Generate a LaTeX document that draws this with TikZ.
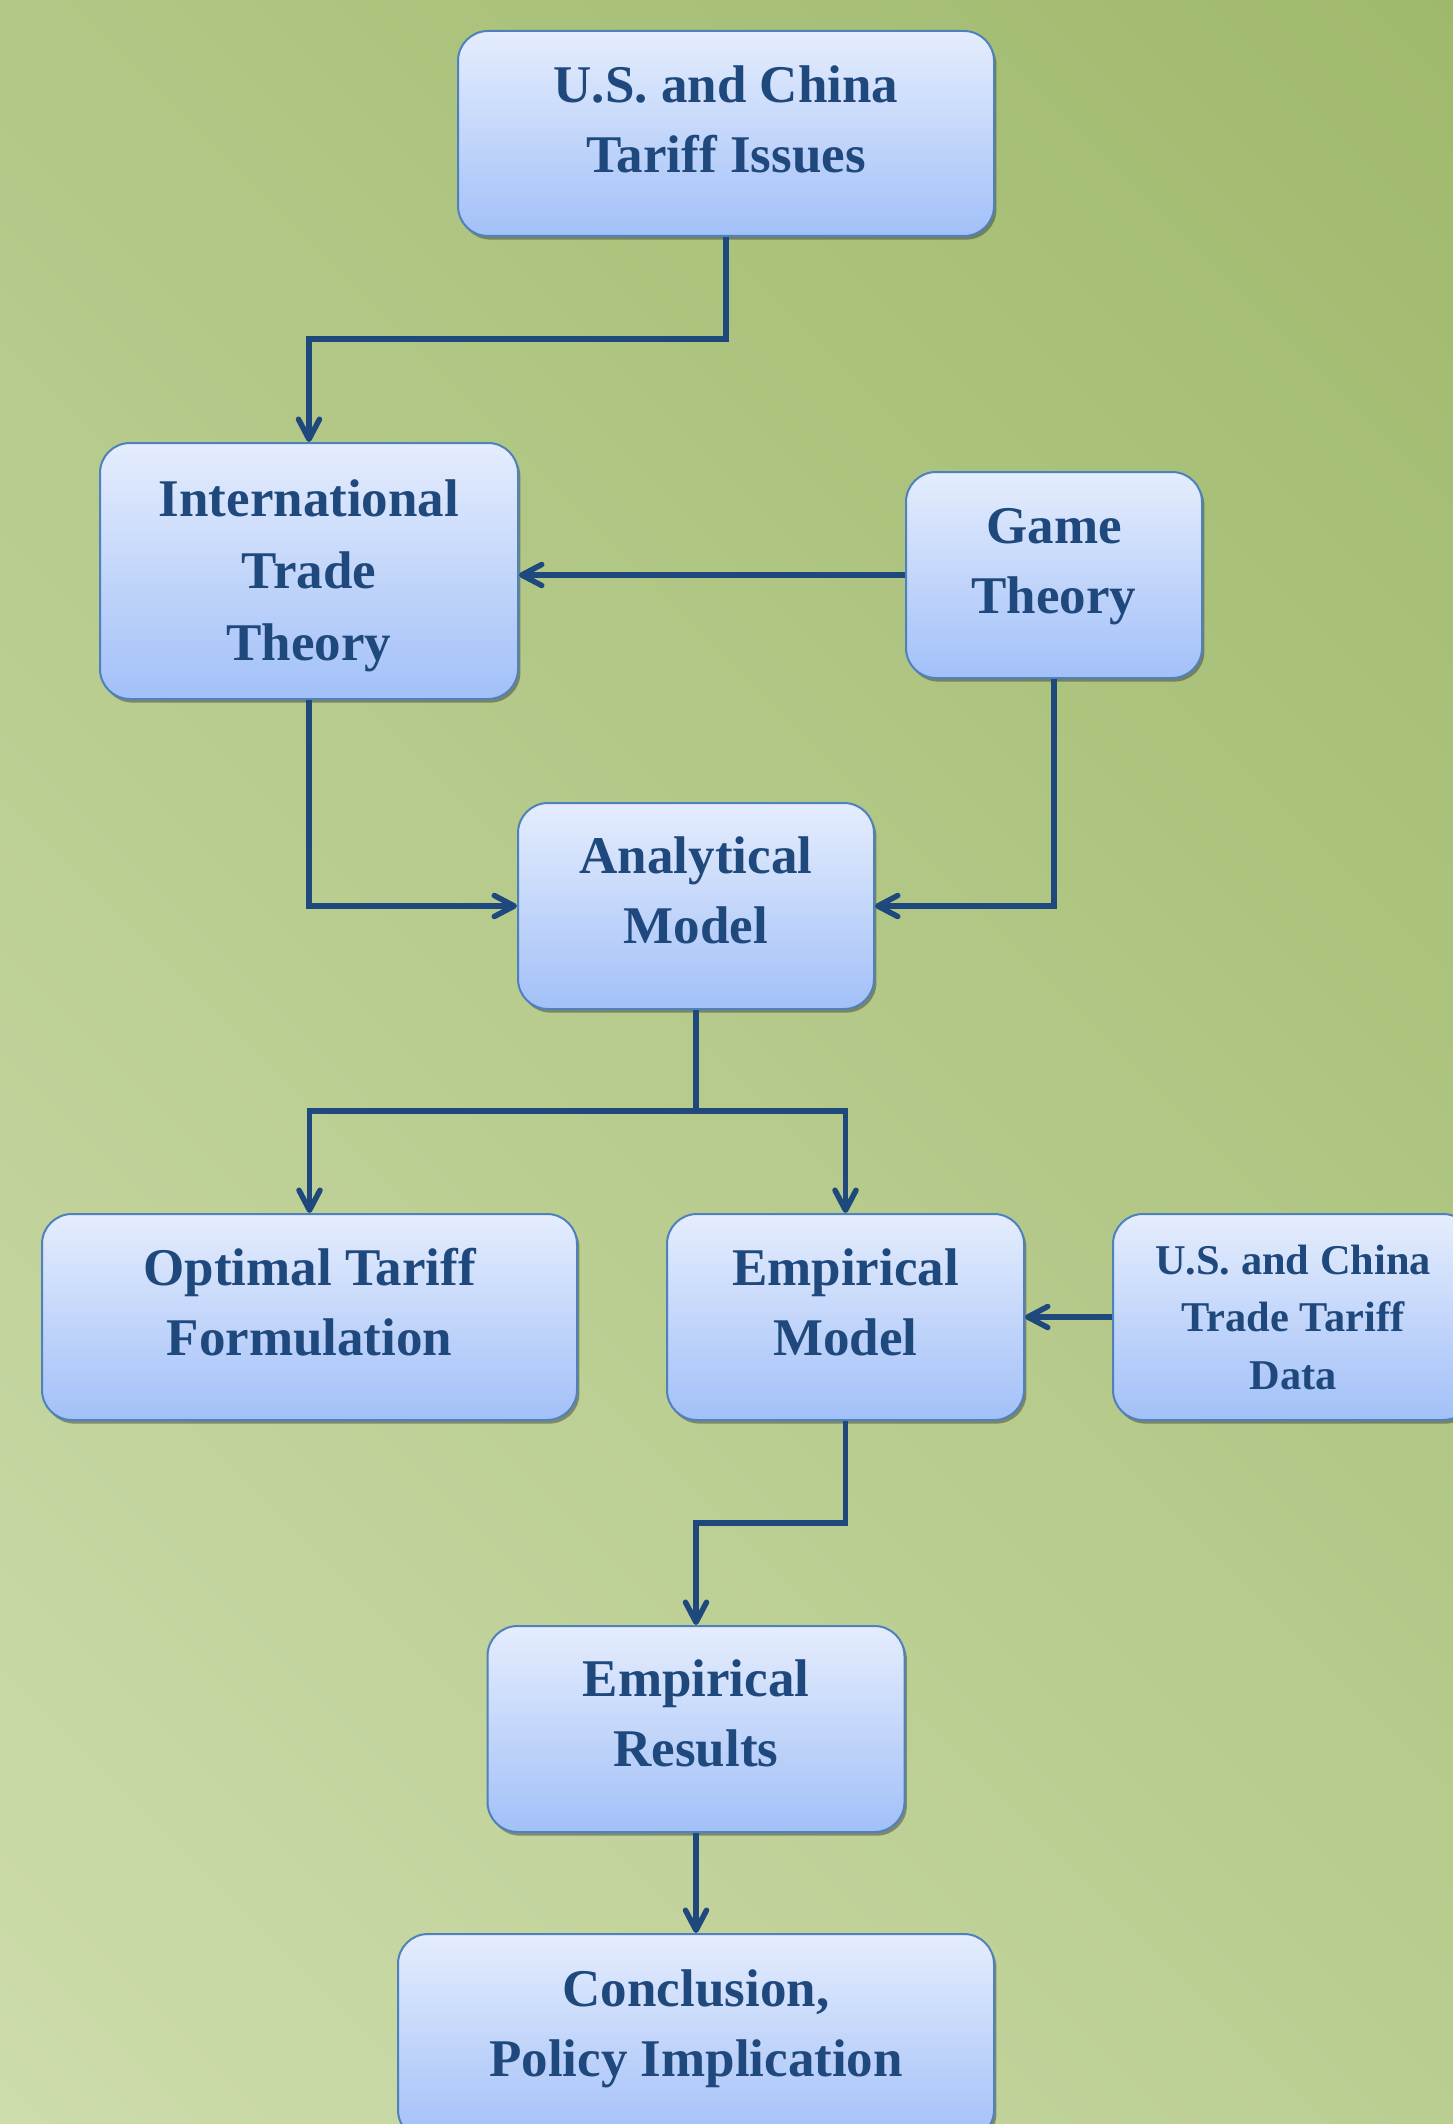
\documentclass[tikz,border=0pt]{standalone}
\usepackage{fontspec}
\setmainfont{Liberation Serif}
\usetikzlibrary{arrows.meta,shadows}
\definecolor{bglight}{RGB}{205,220,171}
\definecolor{bgdark}{RGB}{159,185,108}
\definecolor{boxtop}{RGB}{229,237,253}
\definecolor{boxbot}{RGB}{162,192,248}
\definecolor{boxline}{RGB}{79,129,189}
\definecolor{tblue}{RGB}{31,73,125}
\pgfdeclareverticalshading{bgshade}{100bp}{color(0bp)=(bglight); color(14.64bp)=(bglight); color(85.36bp)=(bgdark); color(100bp)=(bgdark)}
\tikzset{
  flowbox/.style={rectangle, rounded corners=15pt, draw=boxline, line width=1pt,
    top color=boxtop, bottom color=boxbot, inner sep=0pt,
    drop shadow={shadow xshift=1.2pt, shadow yshift=-1.8pt, opacity=0.45, fill=black!80}},
  boxtext/.style={anchor=north, inner sep=0pt, align=center, text=tblue,
    font=\bfseries\fontsize{26.5}{35}\selectfont},
  smalltext/.style={anchor=north, inner sep=0pt, align=center, text=tblue,
    font=\bfseries\fontsize{21.2}{28.75}\selectfont},
  conn/.style={draw=tblue, line width=2.75pt},
  arr/.style={conn, -{Straight Barb[length=10pt,width=10.5pt,round]}}
}
\newcommand{\topstrut}{\rule{0pt}{28pt}}
\newcommand{\smallstrut}{\rule{0pt}{23pt}}
\begin{document}
\begin{tikzpicture}[x=0.5pt,y=-0.5pt]
\useasboundingbox (0,0) rectangle (1452,2124);
\clip (-6,-6) rectangle (1458,2130);
\shade[shading=bgshade, shading angle=-45] (-6,-6) rectangle (1458,2130);

% boxes
\node[flowbox, minimum width=268pt, minimum height=102.5pt] (b1) at (726,133.5) {};
\node[flowbox, minimum width=209pt, minimum height=128pt] (itt) at (309,571) {};
\node[flowbox, minimum width=148pt, minimum height=103pt] (gt) at (1054,575) {};
\node[flowbox, minimum width=178pt, minimum height=103pt] (am) at (696,906) {};
\node[flowbox, minimum width=267.5pt, minimum height=103pt] (ot) at (309.5,1317) {};
\node[flowbox, minimum width=178.5pt, minimum height=103pt] (em) at (845.5,1317) {};
\node[flowbox, minimum width=180pt, minimum height=103pt] (data) at (1293,1317) {};
\node[flowbox, minimum width=208.5pt, minimum height=103pt] (er) at (696,1729) {};
\node[flowbox, minimum width=298pt, minimum height=103pt] (conc) at (696,2037) {};

% texts
\node[boxtext] (t1) at (726,45.7) {\topstrut U.S. and China\\Tariff Issues};
\node[boxtext, font=\bfseries\fontsize{26.5}{36}\selectfont] (t2) at (309,460) {\topstrut International\\Trade\\Theory};
\node[boxtext] (t3) at (1054,486.7) {\topstrut Game\\Theory};
\node[boxtext] (t4) at (696,817) {\topstrut Analytical\\Model};
\node[boxtext] (t5) at (309.5,1229) {\topstrut Optimal Tariff\\Formulation};
\node[boxtext] (t6) at (845.5,1229) {\topstrut Empirical\\Model};
\node[smalltext] (t7) at (1293,1228) {\smallstrut U.S. and China\\Trade Tariff\\Data};
\node[boxtext] (t8) at (696,1640) {\topstrut Empirical\\Results};
\node[boxtext] (t9) at (696,1950) {\topstrut Conclusion,\\Policy Implication};

% junctions
\coordinate (j1) at (726,339);
\coordinate (j2) at (696,1111);
\coordinate (j3) at (845.5,1523);

% connectors
\draw[arr] (b1.south) -- (j1) -| (itt.north);
\draw[arr] (gt.west) -- (gt.west -| itt.east);
\draw[arr] (itt.south) |- (am.west);
\draw[arr] (gt.south) |- (am.east);
\draw[arr] (am.south) -- (j2) -| (ot.north);
\draw[arr] (j2) -| (em.north);
\draw[arr] (data.west) -- (data.west -| em.east);
\draw[arr] (em.south) -- (j3) -| (er.north);
\draw[arr] (er.south) -- (conc.north);
\end{tikzpicture}
\end{document}
